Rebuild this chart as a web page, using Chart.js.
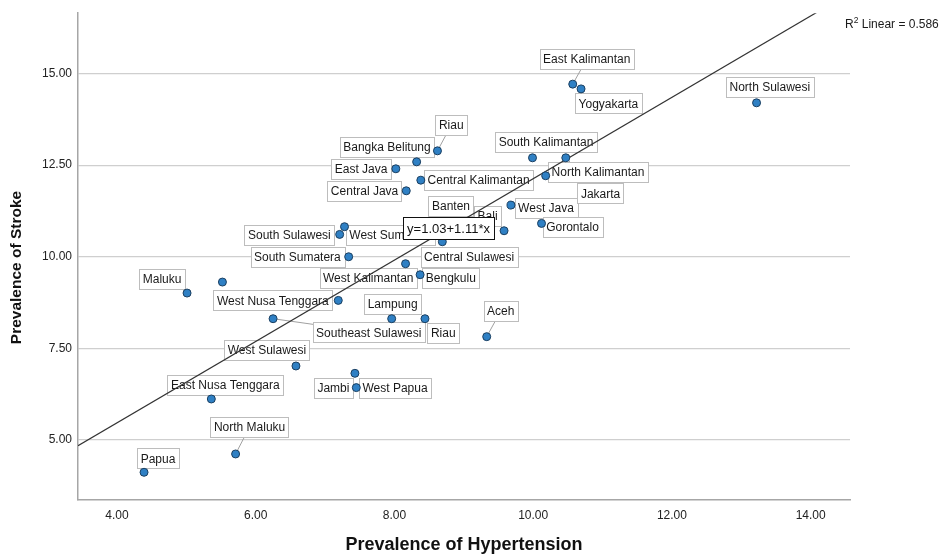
<!DOCTYPE html>
<html>
<head>
<meta charset="utf-8">
<script src="https://cdn.jsdelivr.net/npm/chart.js@4.4.1/dist/chart.umd.min.js"></script>
<style>
  html, body { margin: 0; padding: 0; background: #ffffff; }
  #wrap { width: 948px; height: 554px; }
</style>
</head>
<body>
<div id="wrap"><canvas id="chart" width="948" height="554"></canvas></div>
<script>
// Province-level prevalence (%) of hypertension vs. stroke
const provinces = [
  "Papua", "North Maluku", "East Nusa Tenggara", "West Sulawesi", "Jambi",
  "West Papua", "Aceh", "Riau", "Lampung", "Southeast Sulawesi",
  "West Nusa Tenggara", "Maluku", "", "West Kalimantan", "Bengkulu",
  "Central Sulawesi", "South Sumatera", "South Sulawesi", "West Sumatera", "Banten",
  "Bali", "West Java", "Gorontalo", "Central Java", "Central Kalimantan",
  "East Java", "Bangka Belitung", "Riau", "South Kalimantan", "Jakarta",
  "North Kalimantan", "East Kalimantan", "Yogyakarta", "North Sulawesi"
];
const hypertension = [
  4.39, 5.71, 5.36, 6.58, 7.43,
  7.45, 9.33, 8.44, 7.96, 6.25,
  7.19, 5.01, 5.52, 8.16, 8.37,
  8.69, 7.34, 7.21, 7.28, 8.74,
  9.58, 9.68, 10.12, 8.17, 8.38,
  8.02, 8.32, 8.62, 9.99, 10.47,
  10.18, 10.57, 10.69, 13.22
];
const stroke = [
  4.12, 4.62, 6.12, 7.02, 6.82,
  6.43, 7.82, 8.31, 8.31, 8.31,
  8.81, 9.01, 9.31, 9.81, 9.51,
  10.41, 10.00, 10.61, 10.82, 10.77,
  10.71, 11.41, 10.91, 11.80, 12.09,
  12.40, 12.59, 12.89, 12.70, 12.70,
  12.21, 14.71, 14.58, 14.20
];
const xTickValues = [4, 6, 8, 10, 12, 14];
const yTickValues = [5, 7.5, 10, 12.5, 15];
const fitIntercept = 1.03;
const fitSlope = 1.11;
const rSquared = 0.586;

// Label box placement: centre offset (px) from each marker
const labelOffsets = [
  [14, -14], [14, -27], [14, -14], [-29, -16], [-21.5, 14.4],
  [38.7, 0], [14, -25.5], [18.3, 14], [1, -15], [95.7, 13.5],
  [-65.4, 0], [-25, -14], [0, 0], [-37.3, 14.4], [30.7, 3.4],
  [26.8, 15.3], [-51.3, 0], [-50.3, 0.7], [46, 8.3], [5.2, -22.4],
  [-16.5, -14.7], [35, 3], [31, 3.7], [-41.7, 0], [57.8, 0],
  [-34.8, 0], [-29.7, -14.7], [13.8, -25.7], [13.5, -16], [34.8, 35.6],
  [52.3, -3.7], [14, -25], [27.3, 14.3], [13.3, -15.7]
];

const X_MIN = 3.438, X_MAX = 14.567;
const Y_MIN = 3.364, Y_MAX = 16.645;
const FONT = "'Liberation Sans', Arial, Helvetica, sans-serif";

const points = hypertension.map((x, i) => ({ x: x, y: stroke[i] }));
const fitLine = [X_MIN, X_MAX].map(x => ({ x: x, y: fitIntercept + fitSlope * x }));

const annotate = {
  id: 'annotate',
  beforeDatasetsDraw(chart) {
    const ctx = chart.ctx;
    const meta = chart.getDatasetMeta(0);
    ctx.save();
    ctx.font = "12px " + FONT;
    const boxes = [];
    provinces.forEach((name, i) => {
      if (!name) return;
      const el = meta.data[i];
      const cx = el.x + labelOffsets[i][0];
      const cy = el.y + labelOffsets[i][1];
      const w = ctx.measureText(name).width + 7;
      const h = 20;
      boxes.push({ name, px: el.x, py: el.y, x: cx - w / 2, y: cy - h / 2, w, h, cx, cy });
    });
    // leader lines run toward the box centre; the box hides the inner part
    ctx.strokeStyle = '#a0a0a0';
    ctx.lineWidth = 1;
    boxes.forEach(b => {
      const nx = Math.max(b.x, Math.min(b.px, b.x + b.w));
      const ny = Math.max(b.y, Math.min(b.py, b.y + b.h));
      const d = Math.hypot(nx - b.px, ny - b.py);
      if (d > 6) {
        ctx.beginPath();
        ctx.moveTo(b.px, b.py);
        ctx.lineTo(b.cx, b.cy);
        ctx.stroke();
      }
    });
    // label boxes
    boxes.forEach(b => {
      ctx.fillStyle = '#ffffff';
      ctx.fillRect(Math.round(b.x) + 0.5, Math.round(b.y) + 0.5, Math.round(b.w), b.h);
      ctx.strokeStyle = '#bdbdbd';
      ctx.strokeRect(Math.round(b.x) + 0.5, Math.round(b.y) + 0.5, Math.round(b.w), b.h);
      ctx.fillStyle = '#1a1a1a';
      ctx.textAlign = 'center';
      ctx.textBaseline = 'middle';
      ctx.fillText(b.name, b.cx, b.cy + 1);
    });
    ctx.restore();
  },
  afterDatasetsDraw(chart) {
    const ctx = chart.ctx;
    const xs = chart.scales.x, ys = chart.scales.y;
    const ex = 8.78;
    const px = xs.getPixelForValue(ex);
    const py = ys.getPixelForValue(fitIntercept + fitSlope * ex);
    const text = 'y=' + fitIntercept.toFixed(2) + '+' + fitSlope.toFixed(2) + '*x';
    ctx.save();
    ctx.font = "13px " + FONT;
    const w = ctx.measureText(text).width + 8;
    const h = 22;
    const bx = Math.round(px - w / 2) + 0.5, by = Math.round(py - h / 2) + 0.5;
    ctx.fillStyle = '#ffffff';
    ctx.fillRect(bx, by, Math.round(w), h);
    ctx.strokeStyle = '#111111';
    ctx.lineWidth = 1;
    ctx.strokeRect(bx, by, Math.round(w), h);
    ctx.fillStyle = '#111111';
    ctx.textAlign = 'center';
    ctx.textBaseline = 'middle';
    ctx.fillText(text, px, py + 1);
    ctx.restore();
  },
  afterDraw(chart) {
    const ctx = chart.ctx;
    ctx.save();
    // fit statistic, top right
    ctx.fillStyle = '#1a1a1a';
    ctx.textBaseline = 'alphabetic';
    ctx.textAlign = 'left';
    let x = 845;
    const base = 28;
    ctx.font = "12px " + FONT;
    ctx.fillText('R', x, base);
    x += ctx.measureText('R').width;
    ctx.font = "8.5px " + FONT;
    ctx.fillText('2', x, base - 5);
    x += ctx.measureText('2').width;
    ctx.font = "12px " + FONT;
    ctx.fillText(' Linear = ' + rSquared.toFixed(3), x, base);
    // vertical axis title
    ctx.translate(17, 267.5);
    ctx.rotate(-Math.PI / 2);
    ctx.font = "bold 15.5px " + FONT;
    ctx.textAlign = 'center';
    ctx.textBaseline = 'middle';
    ctx.fillStyle = '#111111';
    ctx.fillText('Prevalence of Stroke', 0, 0);
    ctx.restore();
  }
};

new Chart(document.getElementById('chart'), {
  type: 'scatter',
  data: {
    datasets: [
      {
        label: 'Provinces',
        data: points,
        order: 0,
        pointRadius: 4,
        pointHoverRadius: 4,
        pointBackgroundColor: '#2f80c4',
        pointBorderColor: '#1b3f60',
        pointBorderWidth: 1
      },
      {
        label: 'Linear fit',
        type: 'line',
        data: fitLine,
        order: 1,
        borderColor: '#333333',
        borderWidth: 1.2,
        pointRadius: 0,
        fill: false,
        tension: 0
      }
    ]
  },
  options: {
    responsive: false,
    animation: false,
    devicePixelRatio: 1,
    layout: { padding: { top: 13, right: 98, left: 0, bottom: 0 } },
    plugins: { legend: { display: false }, tooltip: { enabled: false } },
    scales: {
      x: {
        type: 'linear',
        min: X_MIN,
        max: X_MAX,
        afterFit(scale) { scale.height = 54; },
        afterBuildTicks(scale) { scale.ticks = xTickValues.map(v => ({ value: v })); },
        grid: { display: false, drawTicks: false },
        border: { display: true, color: '#a6a6a6', width: 1.5 },
        ticks: {
          padding: 8,
          color: '#222222',
          font: { family: FONT, size: 12 },
          maxRotation: 0,
          callback: v => Number(v).toFixed(2)
        },
        title: {
          display: true,
          text: 'Prevalence of Hypertension',
          color: '#111111',
          font: { family: FONT, size: 18, weight: 'bold', lineHeight: 1.2 },
          padding: { top: 0, bottom: -2 }
        }
      },
      y: {
        type: 'linear',
        min: Y_MIN,
        max: Y_MAX,
        afterFit(scale) { scale.width = 78; },
        afterBuildTicks(scale) { scale.ticks = yTickValues.map(v => ({ value: v })); },
        grid: { display: true, drawTicks: false, color: '#cfcfcf', lineWidth: 1.2 },
        border: { display: true, color: '#a6a6a6', width: 1.5 },
        ticks: {
          padding: 6,
          color: '#222222',
          font: { family: FONT, size: 12 },
          callback: v => Number(v).toFixed(2)
        }
      }
    }
  },
  plugins: [annotate]
});
</script>
</body>
</html>
